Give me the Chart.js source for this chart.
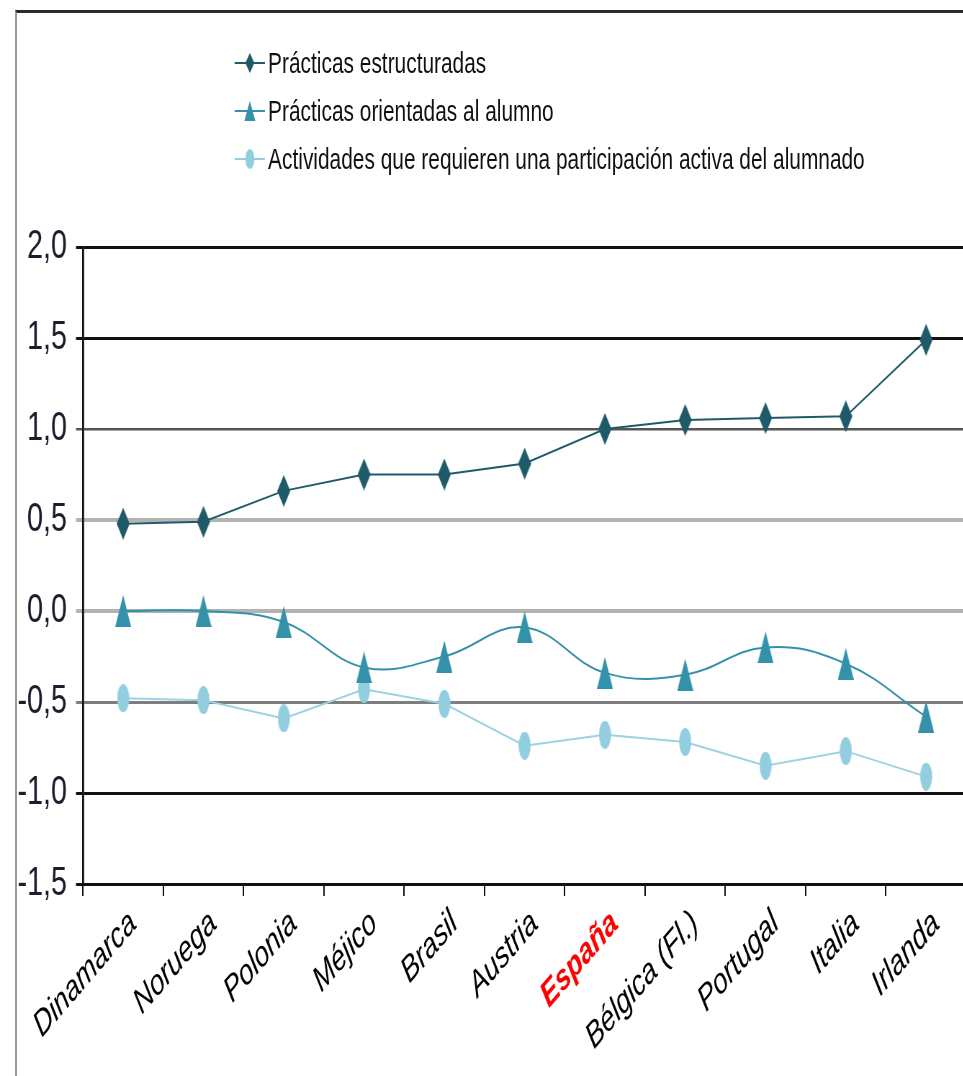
<!DOCTYPE html>
<html>
<head>
<meta charset="utf-8">
<script src="https://cdn.jsdelivr.net/npm/chart.js@4"></script>
<style>
  html, body { margin: 0; padding: 0; background: #fff; overflow: hidden; width: 963px; height: 1076px; }
  #wrap { position: absolute; left: 0; top: 0; height: 1076px; transform-origin: 0 0; }
  #frame { position: absolute; left: 15px; top: 10px; width: 980px; height: 1100px;
           border-top: 3px solid #2b2b2b; border-left: 2px solid #9a9a9a; pointer-events: none; }
  #legend { position: absolute; top: 39px; color: #111;
            font-family: 'Liberation Sans', Arial, sans-serif; font-size: 29px; }
  .item { display: flex; align-items: center; height: 48px; white-space: nowrap; }
  .item canvas { margin-right: 4px; }
</style>
</head>
<body>
<div id="wrap">
  <canvas id="chart"></canvas>
  <div id="legend"></div>
</div>
<div id="frame"></div>
<script>
// values
const categories = ['Dinamarca', 'Noruega', 'Polonia', 'Méjico', 'Brasil', 'Austria', 'España',
                    'Bélgica (Fl.)', 'Portugal', 'Italia', 'Irlanda'];
const estructuradas = [0.48, 0.49, 0.66, 0.75, 0.75, 0.81, 1.00, 1.05, 1.06, 1.07, 1.49];
const orientadas = [0.00, 0.00, -0.06, -0.31, -0.25, -0.09, -0.34, -0.35, -0.20, -0.29, -0.58];
const participacion = [-0.48, -0.49, -0.59, -0.43, -0.51, -0.74, -0.68, -0.72, -0.85, -0.77, -0.91];
const seriesNames = ['Prácticas estructuradas', 'Prácticas orientadas  al alumno',
                     'Actividades que requieren una participación activa del alumnado'];
const yTicks = [-1.5, -1.0, -0.5, 0.0, 0.5, 1.0, 1.5, 2.0];
const highlight = 'España';

// the original is squeezed sideways, so draw wide and scale the whole chart down in x
const S = 0.72;
const font = "'Liberation Sans', Arial, sans-serif";
const colors = ['#1e5a69', '#3391aa', '#92cee0'];
const shapes = ['diamond', 'triangle', 'ellipse'];

const wrap = document.getElementById('wrap');
wrap.style.width = (975 / S) + 'px';
wrap.style.transform = 'scaleX(' + S + ')';

// small canvases used as point styles (markers are tall and thin in the original)
function marker(shape, w, h, color, lineLen) {
  const c = document.createElement('canvas');
  c.width = Math.round(lineLen || w);
  c.height = h;
  const g = c.getContext('2d');
  const cx = c.width / 2, cy = h / 2;
  if (lineLen) {
    g.strokeStyle = color;
    g.lineWidth = 2;
    g.beginPath(); g.moveTo(0, cy); g.lineTo(c.width, cy); g.stroke();
  }
  g.fillStyle = color;
  g.beginPath();
  if (shape === 'diamond') {
    g.moveTo(cx, 0); g.lineTo(cx + w / 2, cy); g.lineTo(cx, h); g.lineTo(cx - w / 2, cy);
  } else if (shape === 'triangle') {
    g.moveTo(cx, 0); g.lineTo(cx + w / 2, h); g.lineTo(cx - w / 2, h);
  } else {
    g.ellipse(cx, cy, w / 2, h / 2, 0, 0, Math.PI * 2);
  }
  g.closePath();
  g.fill();
  return c;
}

const plotMarkers = [marker('diamond', 13 / S, 32, colors[0]), marker('triangle', 16 / S, 32, colors[1]),
                     marker('ellipse', 12 / S, 28, colors[2])];

// legend
const legend = document.getElementById('legend');
legend.style.left = (235 / S) + 'px';
seriesNames.forEach((name, i) => {
  const row = document.createElement('div');
  row.className = 'item';
  row.appendChild(marker(shapes[i], (i === 1 ? 11 : 9) / S, 20, colors[i], 30 / S));
  const span = document.createElement('span');
  span.textContent = name;
  row.appendChild(span);
  legend.appendChild(row);
});

function gridStyle(v) {
  if (Math.abs(v - 0.5) < 1e-6 || Math.abs(v) < 1e-6) return ['#b3b3b3', 4];
  if (Math.abs(v + 0.5) < 1e-6) return ['#7d7d7d', 3];
  if (Math.abs(v - 1) < 1e-6) return ['#555', 2.5];
  return ['#111', 3];
}

const canvas = document.getElementById('chart');
canvas.width = Math.round(975 / S);
canvas.height = 1076;

new Chart(canvas, {
  type: 'line',
  data: {
    labels: categories,
    datasets: [
      { label: seriesNames[0], data: estructuradas, borderColor: colors[0], borderWidth: 2,
        pointStyle: plotMarkers[0], pointRadius: 10, tension: 0 },
      { label: seriesNames[1], data: orientadas, borderColor: colors[1], borderWidth: 2,
        pointStyle: plotMarkers[1], pointRadius: 10, tension: 0.4 },
      { label: seriesNames[2], data: participacion, borderColor: '#9bd2e2', borderWidth: 2,
        pointStyle: plotMarkers[2], pointRadius: 10, tension: 0 }
    ]
  },
  options: {
    responsive: false,
    animation: false,
    layout: { padding: { top: 247, right: 1 / S, left: 0, bottom: 0 } },
    plugins: { legend: { display: false }, tooltip: { enabled: false } },
    scales: {
      x: {
        offset: true,
        grid: { offset: true, drawOnChartArea: false, drawTicks: true, tickLength: 12,
                color: '#111', lineWidth: 2 },
        border: { color: '#111', width: 3 },
        ticks: {
          autoSkip: false, minRotation: 40, maxRotation: 40, padding: 6, labelOffset: 10 / S,
          color: c => categories[c.index] === highlight ? '#ff0000' : '#000',
          font: c => ({ family: font, size: 36, style: 'italic',
                        weight: categories[c.index] === highlight ? 'bold' : 'normal' })
        },
        afterFit: s => { s.height = 1076 - 884; }
      },
      y: {
        min: -1.5, max: 2,
        afterBuildTicks: s => { s.ticks = yTicks.map(v => ({ value: v })); },
        grid: {
          color: c => gridStyle(c.tick.value)[0],
          lineWidth: c => gridStyle(c.tick.value)[1],
          tickLength: 7 / S
        },
        border: { color: '#111', width: 2 / S },
        ticks: {
          padding: 9 / S, color: '#1c1c2c',
          font: { family: font, size: 40 },
          callback: v => v.toFixed(1).replace('.', ',')
        },
        afterFit: s => { s.width = 83 / S; }
      }
    }
  }
});
</script>
</body>
</html>
